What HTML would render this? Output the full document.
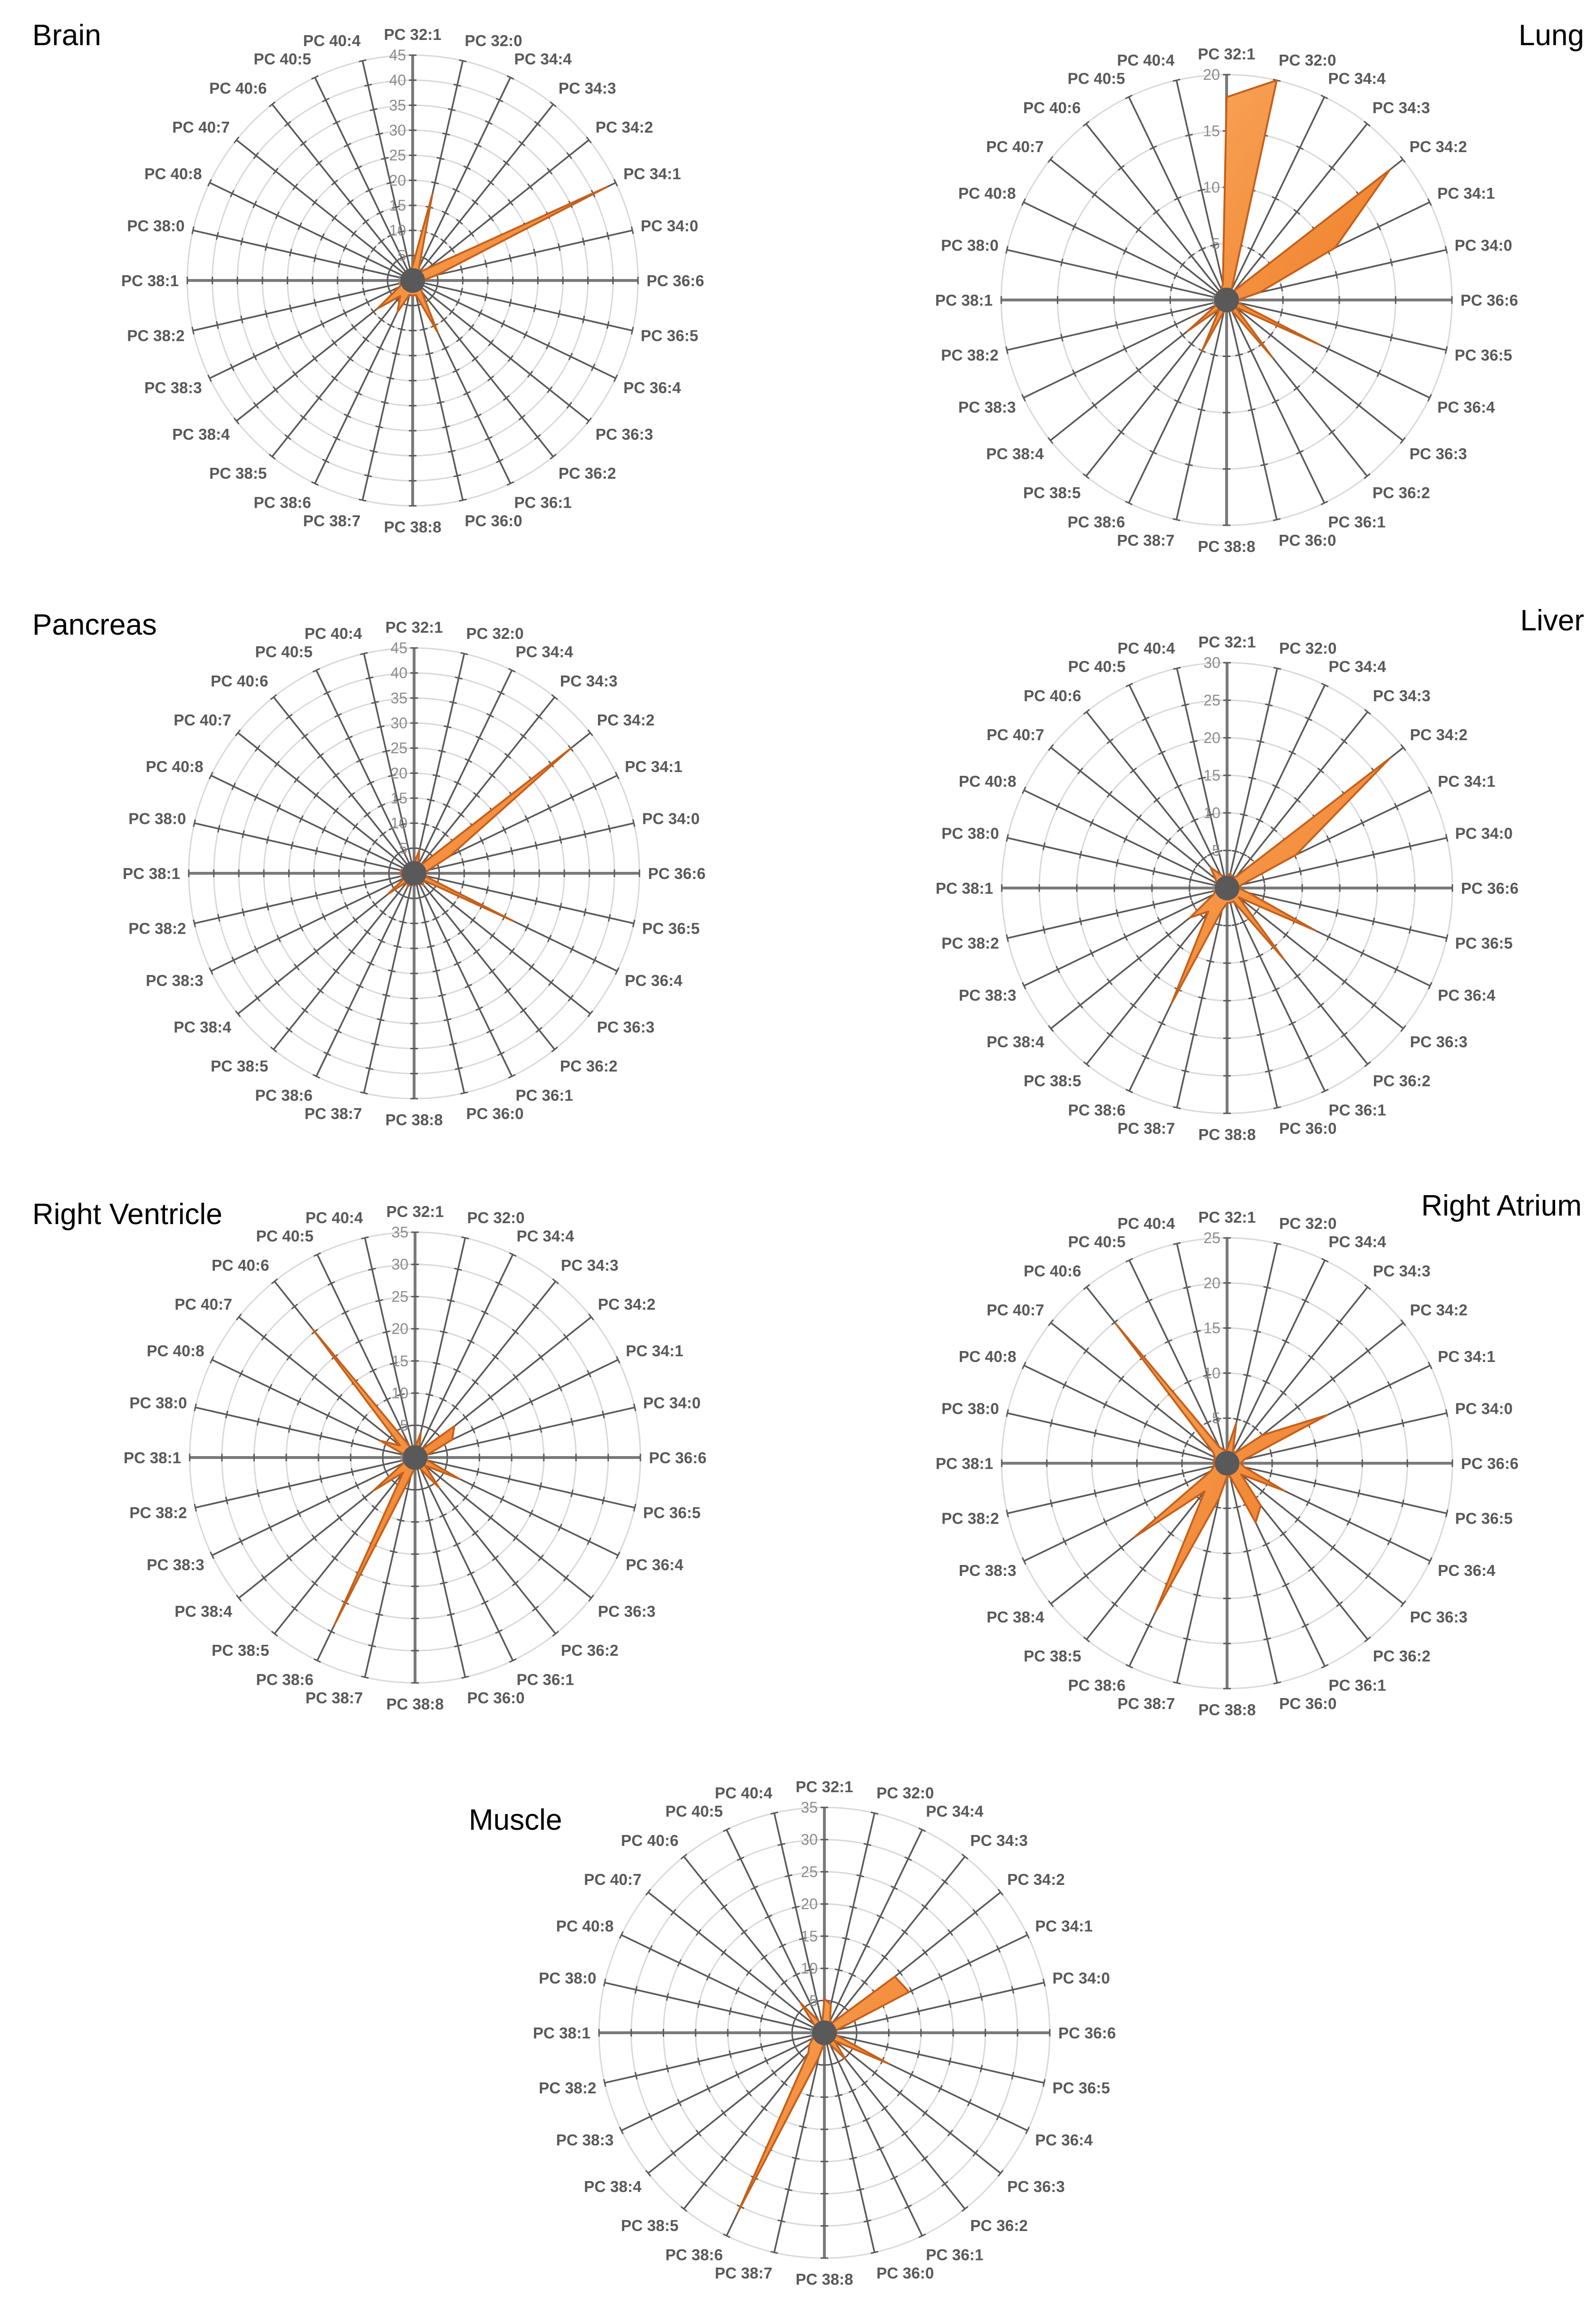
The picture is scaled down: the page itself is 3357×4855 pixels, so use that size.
<!DOCTYPE html>
<html><head><meta charset="utf-8"><title>PC radar charts</title>
<style>
html,body{margin:0;padding:0;background:#fff;}
svg{display:block;}
.title{font-family:"Liberation Sans",sans-serif;font-size:62px;fill:#000;}
.cat{font-family:"Liberation Sans",sans-serif;font-size:33px;font-weight:bold;fill:#595959;}
.val{font-family:"Liberation Sans",sans-serif;font-size:32px;fill:#8c8c8c;}
</style></head>
<body>
<svg id="root" width="3357" height="4855" viewBox="0 0 3357 4855" xmlns="http://www.w3.org/2000/svg">
<defs>
<linearGradient id="og" x1="0" y1="0" x2="1" y2="1">
<stop offset="0" stop-color="#f9a55a"/><stop offset="1" stop-color="#ee7a24"/>
</linearGradient>
</defs>
</svg>
<script>
const categories = ["PC 32:1","PC 32:0","PC 34:4","PC 34:3","PC 34:2","PC 34:1","PC 34:0","PC 36:6","PC 36:5","PC 36:4","PC 36:3","PC 36:2","PC 36:1","PC 36:0","PC 38:8","PC 38:7","PC 38:6","PC 38:5","PC 38:4","PC 38:3","PC 38:2","PC 38:1","PC 38:0","PC 40:8","PC 40:7","PC 40:6","PC 40:5","PC 40:4"];
const brainValues =    [3,17.7,3,2,4,43,5,2,2,2,2,3,11.5,3,3,3,7,4,9,3,2,2,2,2,2,2,2,2];
const lungValues =     [18,20,1,1,18.5,10.7,3,1,1,9.2,1,6.5,1,1,1,1,5,1,4.4,1,1,1,1,1,1,1,1,1.5];
const pancreasValues = [2,4.7,2,2,40,8,3,2,2,22,2,3,2,2,2,2,3,2,6.7,2,2,3,2,2,2,2,2,2];
const liverValues =    [1.5,2,1.5,2,27.7,10.2,2,1.5,3,13,2,12.2,2,2,2,3,17,4,6.3,2,1.5,1.5,1.5,1.5,2,3.5,2,1.5];
const rvValues =       [1.5,4,1.5,1.5,7.8,6.4,2,1.5,2,7.6,2,6,2,1.5,1.5,3,28.8,3,8.3,2,1.5,1.5,1.5,6,3,25.5,2,1.5];
const raValues =       [1.5,4.6,1.5,1.5,5,12.3,2,1.5,2,7,2,6,7.3,1.5,1.5,4,18.3,4,13.1,2,1.5,1.5,1.5,1.5,2,19.8,2,1.5];
const muscleValues =   [5.3,4.5,2,2,14,14.6,2,1.5,2,11,2,5.2,2,1.5,1.5,4,30.8,4,3,2,1.5,1.5,1.5,1.5,2,6,2,1.5];
const brainTicks =    [0,5,10,15,20,25,30,35,40,45];
const lungTicks =     [0,5,10,15,20];
const pancreasTicks = [0,5,10,15,20,25,30,35,40,45];
const liverTicks =    [0,5,10,15,20,25,30];
const rvTicks =       [0,5,10,15,20,25,30,35];
const raTicks =       [0,5,10,15,20,25];
const muscleTicks =   [0,5,10,15,20,25,30,35];

const NS = "http://www.w3.org/2000/svg";
const root = document.getElementById('root');
const R = 474;
function mk(tag, attrs, parent){
  const e = document.createElementNS(NS, tag);
  for (const k in attrs) e.setAttribute(k, attrs[k]);
  parent.appendChild(e);
  return e;
}
function drawRadar(key, title, cx, cy, ticks, values, tx, ty, anchor){
  const g = mk('g', {}, root);
  
  
  const maxV = ticks[ticks.length-1];
  const n = categories.length;
  const ang = i => i * 2 * Math.PI / n;
  const pt = (i, v) => { const r = v / maxV * R; return [cx + r*Math.sin(ang(i)), cy - r*Math.cos(ang(i))]; };
  // grid circles
  ticks.forEach(t => {
    if (t === 0) return;
    const c = mk('circle', {cx:cx, cy:cy, r:t/maxV*R, fill:'none', stroke:'#d9d9d9', 'stroke-width':3}, g);
    
    
  });
  // axes
  categories.forEach((cat, i) => {
    const e = pt(i, maxV);
    const major = (i % 7 === 0);
    const ln = mk('line', {x1:cx, y1:cy, x2:e[0], y2:e[1], stroke: major ? '#7a7a7a' : '#595959', 'stroke-width': major ? 6 : 3.5}, g);
    
    
    const s = Math.sin(ang(i)), co = Math.cos(ang(i));
    ticks.forEach(t => {
      if (t === 0) return;
      const p = pt(i, t);
      const tk = mk('line', {x1:p[0]-co*8, y1:p[1]-s*8, x2:p[0]+co*8, y2:p[1]+s*8, stroke:'#595959', 'stroke-width':3}, g);
      
      
    });
    const lx = cx + (R+18)*s, ly = cy - (R+18)*co + 12 - 26*co;
    const a = s > 0.05 ? 'start' : (s < -0.05 ? 'end' : 'middle');
    const tl = mk('text', {x:lx, y:ly, 'text-anchor':a, class:'cat'}, g);
    tl.textContent = cat;
    
    
  });
  // value labels
  ticks.forEach(t => {
    const vl = mk('text', {x:cx-14, y:cy - t/maxV*R + 11, 'text-anchor':'end', class:'val'}, g);
    vl.textContent = t;
    
    
  });
  // series
  const pts = values.map((v,i) => pt(i, v).map(x => x.toFixed(1)).join(',')).join(' ');
  const poly = mk('polygon', {points:pts, fill:'url(#og)', stroke:'#c4601c', 'stroke-width':4, 'stroke-linejoin':'round'}, g);
  
  
  const dot = mk('circle', {cx:cx, cy:cy, r:26, fill:'#595959'}, g);
  
  
  const tt = mk('text', {x:tx, y:ty, 'text-anchor':anchor, class:'title'}, g);
  tt.textContent = title;
  
  
}
drawRadar('brain', 'Brain', 868, 590, brainTicks, brainValues, 68, 95, 'start');
drawRadar('lung', 'Lung', 2580, 631, lungTicks, lungValues, 3332, 95, 'end');
drawRadar('pancreas', 'Pancreas', 871, 1837, pancreasTicks, pancreasValues, 68, 1335, 'start');
drawRadar('liver', 'Liver', 2581, 1868, liverTicks, liverValues, 3332, 1326, 'end');
drawRadar('right-ventricle', 'Right Ventricle', 873, 3066, rvTicks, rvValues, 68, 2575, 'start');
drawRadar('right-atrium', 'Right Atrium', 2581, 3078, raTicks, raValues, 3327, 2557, 'end');
drawRadar('muscle', 'Muscle', 1734, 4276, muscleTicks, muscleValues, 986, 3849, 'start');
</script>
</body></html>
